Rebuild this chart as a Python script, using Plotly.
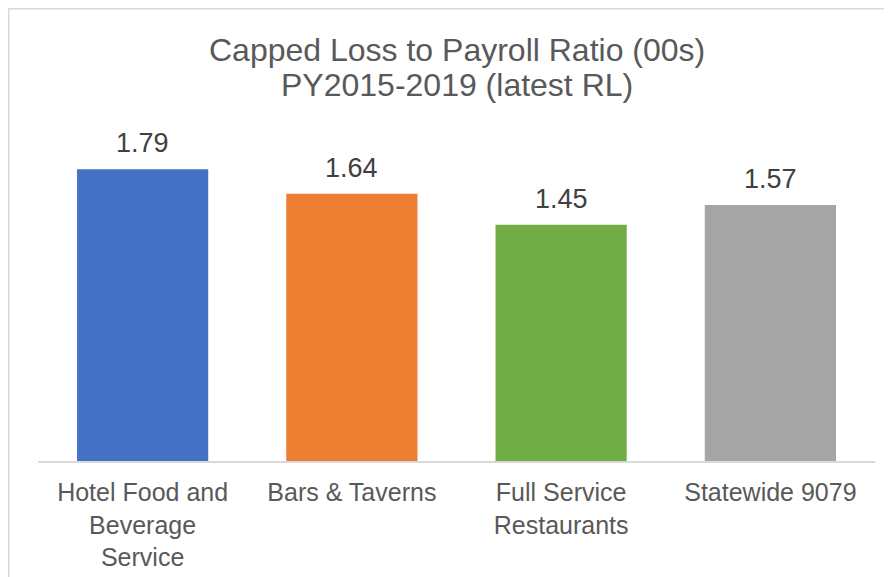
import plotly.graph_objects as go

categories = ["Hotel Food and<br>Beverage<br>Service", "Bars & Taverns", "Full Service<br>Restaurants", "Statewide 9079"]
values = [1.79, 1.64, 1.45, 1.57]
value_labels = ["1.79", "1.64", "1.45", "1.57"]
bar_colors = ["#4472C4", "#ED7D31", "#70AD47", "#A5A5A5"]
title_lines = ["Capped Loss to Payroll Ratio (00s)", "PY2015-2019 (latest RL)"]

FONT = "Liberation Sans, Arial, sans-serif"

fig = go.Figure()
fig.add_trace(go.Bar(
    x=categories, y=values,
    marker=dict(color=bar_colors, line=dict(width=0)),
    hoverinfo="skip",
))

for c, v, t in zip(categories, values, value_labels):
    fig.add_annotation(x=c, y=v, text=t, showarrow=False, yanchor="bottom",
                       yshift=9, font=dict(family=FONT, size=27, color="#404040"))

# two-line title
for ty, line in zip([1.262, 1.154], title_lines):
    fig.add_annotation(x=0.5, xref="paper", y=ty, yref="paper", text=line,
                       showarrow=False, xanchor="center", yanchor="middle",
                       font=dict(family=FONT, size=32, color="#595959"))

# chart border (outer frame of the chart object)
fig.add_shape(type="rect", xref="paper", yref="paper",
              x0=-29.5 / 837, x1=1.2, y0=-0.6, y1=(453 - 0.5) / 326,
              line=dict(color="#D9D9D9", width=2), fillcolor="rgba(0,0,0,0)", layer="below")

fig.update_layout(
    width=892, height=577,
    margin=dict(l=30, r=25, t=127, b=124),
    paper_bgcolor="white", plot_bgcolor="white",
    bargap=0.373,
    showlegend=False,
    xaxis=dict(showline=True, linecolor="#D9D9D9", linewidth=2, ticks="",
               ticklabelstandoff=8,
               tickfont=dict(family=FONT, size=25, color="#595959"),
               showgrid=False, zeroline=False, fixedrange=True),
    yaxis=dict(range=[0, 2], visible=False, showgrid=False, zeroline=False, fixedrange=True),
)

fig.write_html("out.html")
